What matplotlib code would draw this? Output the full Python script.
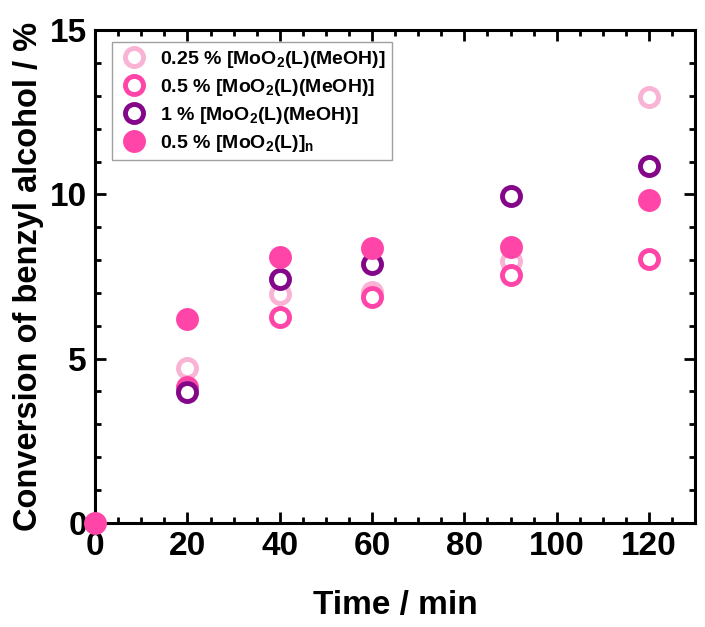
import numpy as np
import matplotlib
matplotlib.use("Agg")
import matplotlib.pyplot as plt
from matplotlib.ticker import MultipleLocator

plt.rcParams['font.family'] = ['Liberation Sans', 'DejaVu Sans']
plt.rcParams['font.weight'] = 'bold'
plt.rcParams['axes.labelweight'] = 'bold'
plt.rcParams['mathtext.fontset'] = 'custom'
plt.rcParams['mathtext.rm'] = 'Liberation Sans:bold'
plt.rcParams['mathtext.bf'] = 'Liberation Sans:bold'
plt.rcParams['mathtext.default'] = 'rm'

# data
time = [0, 20, 40, 60, 90, 120]
conv_025 = [np.nan, 4.72, 6.97, 7.03, 7.97, 12.96]
conv_05 = [np.nan, 4.14, 6.27, 6.88, 7.54, 8.03]
conv_1 = [np.nan, 3.99, 7.42, 7.88, 9.95, 10.86]
conv_poly = [0.0, 6.2, 8.1, 8.37, 8.40, 9.82]

labels = [r'0.25 % [MoO$_2$(L)(MeOH)]',
          r'0.5 % [MoO$_2$(L)(MeOH)]',
          r'1 % [MoO$_2$(L)(MeOH)]',
          r'0.5 % [MoO$_2$(L)]$_n$']

fig = plt.figure(figsize=(7.05, 6.27), dpi=100)
ax = fig.add_axes([0.135, 0.166, 0.851, 0.786])

ms, mew = 13, 3.5
ax.plot(time, conv_025, 'o', ms=ms, mfc='white', mec='#F9B3D5', mew=mew, label=labels[0], clip_on=False)
ax.plot(time, conv_05, 'o', ms=ms, mfc='white', mec='#FF45A8', mew=mew, label=labels[1], clip_on=False)
ax.plot(time, conv_1, 'o', ms=ms, mfc='white', mec='#84078A', mew=mew, label=labels[2], clip_on=False)
ax.plot(time, conv_poly, 'o', ms=ms + mew, mfc='#FF45A8', mec='none', label=labels[3], clip_on=False, zorder=5)

ax.set_xlim(0, 130)
ax.set_ylim(0, 15)
ax.xaxis.set_major_locator(MultipleLocator(20))
ax.xaxis.set_minor_locator(MultipleLocator(5))
ax.yaxis.set_major_locator(MultipleLocator(5))
ax.yaxis.set_minor_locator(MultipleLocator(1))
ax.tick_params(which='both', direction='in', top=True, right=True, width=2)
ax.tick_params(which='major', length=8)
ax.tick_params(which='minor', length=4)
ax.tick_params(axis='y', labelsize=24, pad=6)
ax.tick_params(axis='x', labelsize=24, pad=6)
for s in ax.spines.values():
    s.set_linewidth(2.2)

ax.set_xlabel('Time / min', fontsize=24, labelpad=20)
ax.set_ylabel('Conversion of benzyl alcohol / %', fontsize=23.5, labelpad=4)

leg = ax.legend(loc='upper left', fontsize=14, frameon=True, fancybox=False,
                edgecolor='#888888', handletextpad=0.5, borderpad=0.35,
                labelspacing=0.35, handlelength=1.6, borderaxespad=0,
                bbox_to_anchor=(0.028, 0.975))
leg.get_frame().set_linewidth(1.0)

fig.savefig('out.png', dpi=100)
